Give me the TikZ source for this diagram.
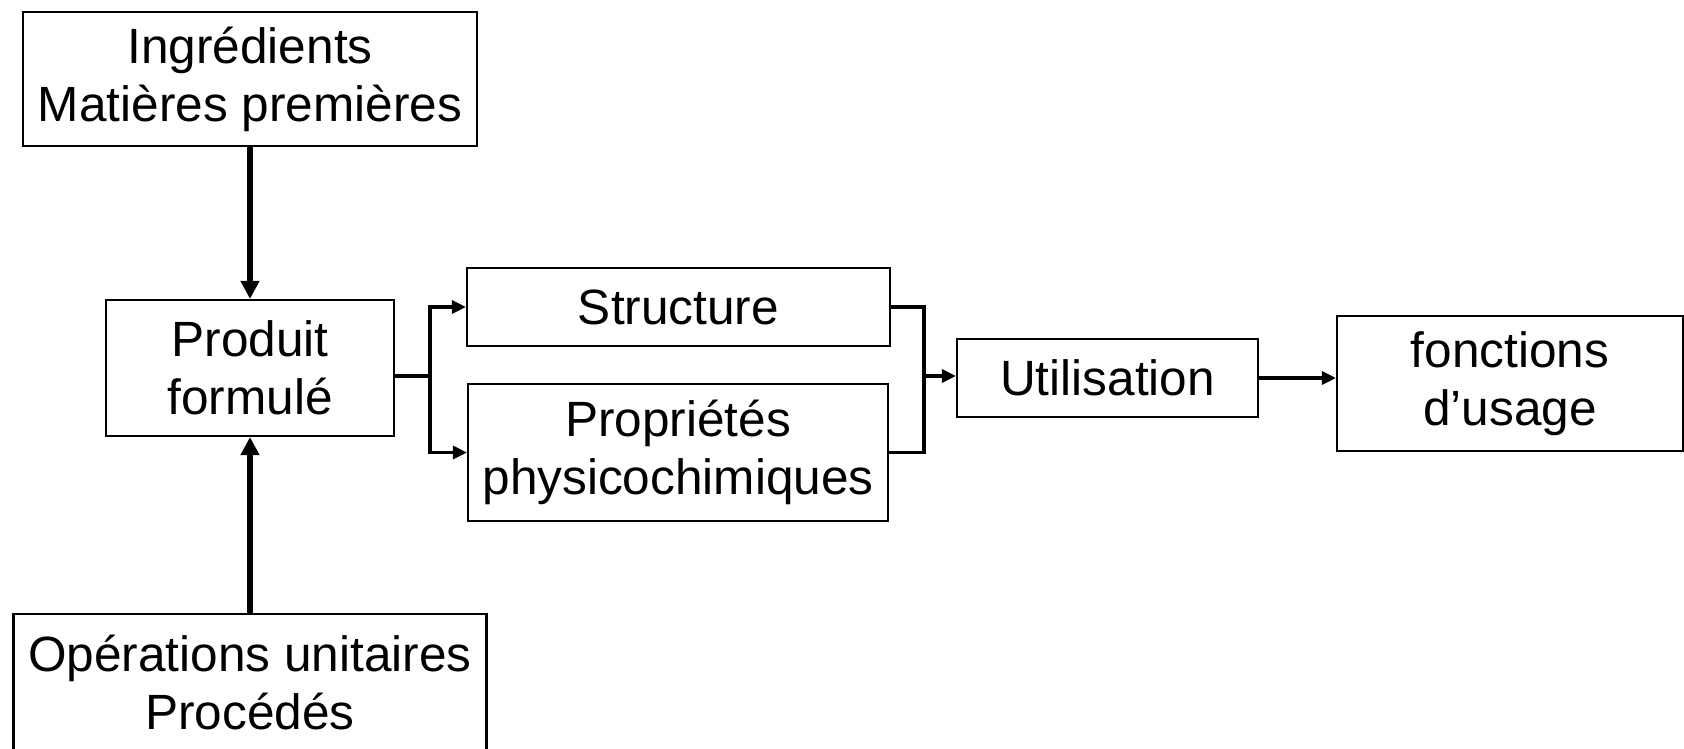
\documentclass[tikz,border=0pt]{standalone}
\usepackage{fontspec}
\setmainfont{Liberation Sans}
\usetikzlibrary{arrows.meta}

\begin{document}
\begin{tikzpicture}[
  box/.style={draw,line width=0.6pt,align=center,inner sep=0pt,font=\fontsize{14.1}{16.5}\selectfont},
  feed/.style={line width=1.45pt,>={Triangle[length=0.18cm,width=0.18cm]}},
  link/.style={line width=0.9pt,>={Triangle[length=0.14cm,width=0.13cm]}}]
\useasboundingbox (0,0) rectangle (16.84,-7.48);
\node[box,minimum width=4.54cm,minimum height=1.34cm] (ing) at (2.50,-0.79) {Ingrédients\\Matières premières};
\node[box,minimum width=2.88cm,minimum height=1.36cm] (prod) at (2.50,-3.68) {Produit\\formulé};
\node[box,minimum width=4.73cm,minimum height=1.36cm] (ops) at (2.50,-6.82) {Opérations unitaires\\Procédés};
\node[box,minimum width=4.23cm,minimum height=0.78cm] (struct) at (6.785,-3.07) {Structure};
\node[box,minimum width=4.20cm,minimum height=1.37cm] (prop) at (6.78,-4.525) {Propriétés\\physicochimiques};
\node[box,minimum width=3.01cm,minimum height=0.78cm] (util) at (11.075,-3.78) {Utilisation};
\node[box,minimum width=3.46cm,minimum height=1.35cm] (fonc) at (15.10,-3.835) {fonctions\\d’usage};
\coordinate (split) at (4.30,-3.76);
\coordinate (merge) at (9.24,-3.76);
\draw[feed,->] (ing) -- (prod);
\draw[feed,->] (ops) -- (prod);
\draw[link] (prod.east |- split) -- (split);
\draw[link,->] (split) |- (struct.west);
\draw[link,->] (split) |- (prop.west);
\draw[link] (struct.east) -| (merge);
\draw[link] (prop.east) -| (merge);
\draw[link,->] (merge) -- (merge -| util.west);
\draw[link,->] (util.east) -- (util.east -| fonc.west);
\end{tikzpicture}
\end{document}
